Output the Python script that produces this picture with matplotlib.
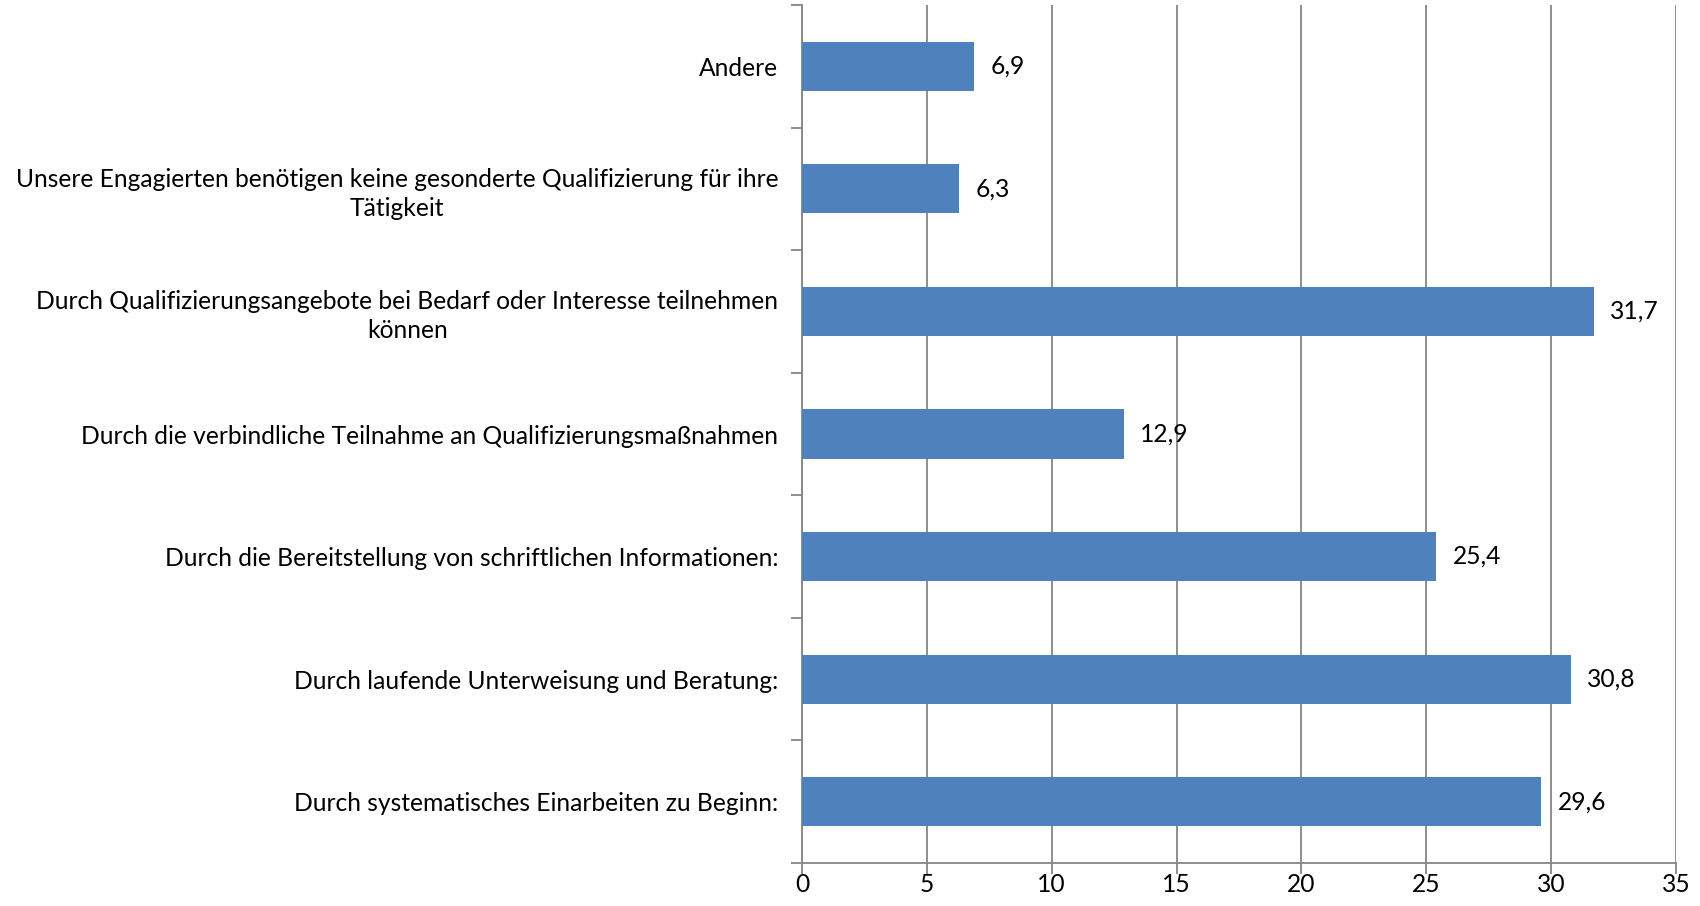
import matplotlib.pyplot as plt

# Data (bottom to top)
categories = [
    "Durch systematisches Einarbeiten zu Beginn:",
    "Durch laufende Unterweisung und Beratung:",
    "Durch die Bereitstellung von schriftlichen Informationen:",
    "Durch die verbindliche Teilnahme an Qualifizierungsmaßnahmen",
    "Durch Qualifizierungsangebote bei Bedarf oder Interesse teilnehmen\nkönnen",
    "Unsere Engagierten benötigen keine gesonderte Qualifizierung für ihre\nTätigkeit",
    "Andere",
]
values = [29.6, 30.8, 25.4, 12.9, 31.7, 6.3, 6.9]
x_ticks = [0, 5, 10, 15, 20, 25, 30, 35]

plt.rcParams['font.family'] = ['Lato', 'DejaVu Sans']
FS = 17.7

fig = plt.figure(figsize=(17, 9.06), dpi=100)
ax = fig.add_axes([802 / 1700, 1 - 863 / 906, (1676 - 802) / 1700, (863 - 5) / 906])

grey = '#868686'
ypos = list(range(len(categories)))
ax.barh(ypos, values, height=0.4, color='#4F81BD', zorder=3)

for y, v in zip(ypos, values):
    ax.text(v + 0.65, y, f"{v:.1f}".replace('.', ','), va='center', ha='left',
            fontsize=FS, zorder=4)

ax.set_xlim(0, 35)
ax.set_ylim(-0.5, len(categories) - 0.5)
ax.set_xticks(x_ticks)
ax.set_xticklabels([str(t) for t in x_ticks], fontsize=FS)
ax.xaxis.grid(True, color=grey, linewidth=1.3, zorder=0)

# category labels
ax.set_yticks(ypos)
ax.set_yticklabels(categories, fontsize=FS, multialignment='center', linespacing=1.3)
ax.tick_params(axis='y', length=0, pad=17)
# boundary ticks on y axis
ax.set_yticks([i - 0.5 for i in range(len(categories) + 1)], minor=True)
ax.tick_params(axis='y', which='minor', length=8, width=1.3, color=grey, direction='out')
ax.tick_params(axis='x', length=8, width=1.3, color=grey, direction='out', pad=-1)

for side in ['top', 'right']:
    ax.spines[side].set_visible(False)
for side in ['left', 'bottom']:
    ax.spines[side].set_color(grey)
    ax.spines[side].set_linewidth(1.3)

fig.savefig('out.png', dpi=100)
